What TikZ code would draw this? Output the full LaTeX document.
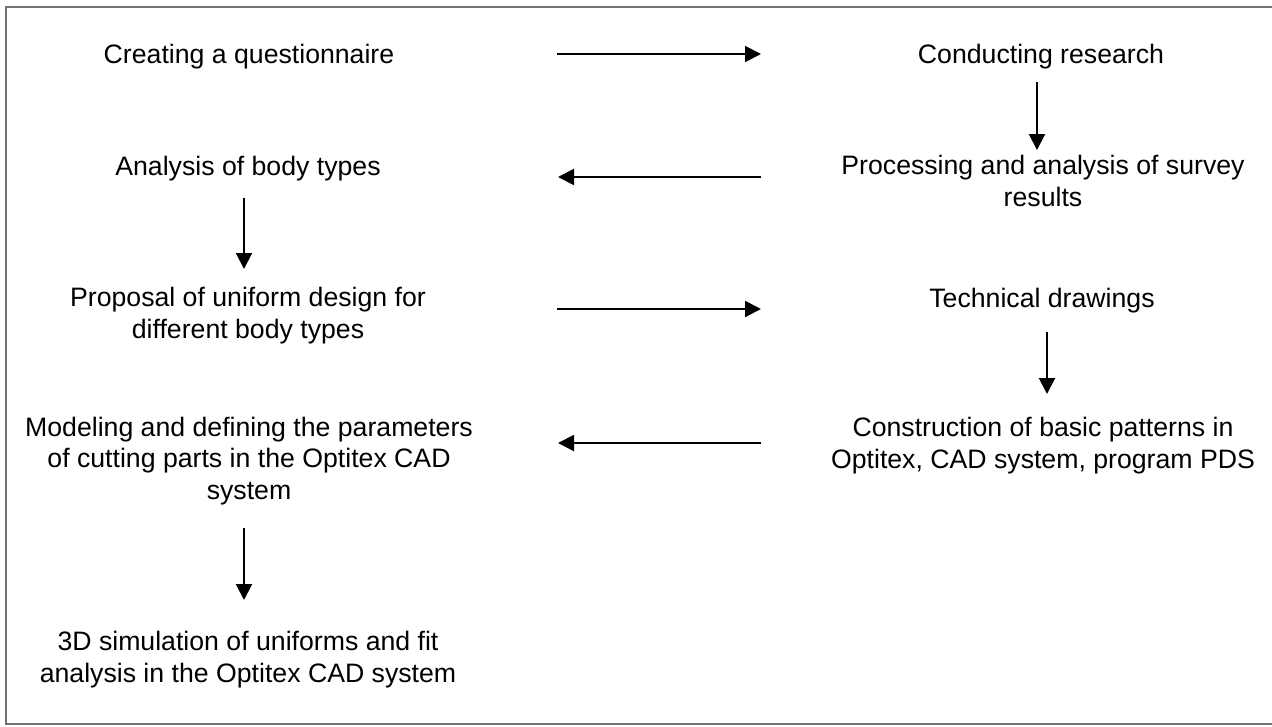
\documentclass[tikz,border=0pt]{standalone}
\usepackage{fontspec}
\setmainfont{Liberation Sans}
\usetikzlibrary{arrows.meta}
\begin{document}
\begin{tikzpicture}[x=0.75pt,y=-0.75pt,
  lbl/.style={font=\fontsize{20}{23.4}\selectfont, align=center, inner sep=0pt, anchor=base},
  arr/.style={line width=1.5pt, -{Triangle[length=12pt,width=12pt]}},
  frame/.style={line width=1pt, draw=black!55}]
\useasboundingbox (0,0) rectangle (1272,726);
\draw[frame] (6,7) rectangle (1285,724);
% nodes (anchor = baseline of the last line)
\node[lbl] (q1) at (249,63) {Creating a questionnaire};
\node[lbl] (q2) at (1041,63) {Conducting research};
\node[lbl] (q3) at (1043,206) {Processing and analysis of survey\\results};
\node[lbl] (q4) at (248,175) {Analysis of body types};
\node[lbl] (q5) at (248,338) {Proposal of uniform design for\\different body types};
\node[lbl] (q6) at (1042,307) {Technical drawings};
\node[lbl] (q7) at (1043,468) {Construction of basic patterns in\\Optitex, CAD system, program PDS};
\node[lbl] (q8) at (249,499) {Modeling and defining the parameters\\of cutting parts in the Optitex CAD\\system};
\node[lbl] (q9) at (248,682) {3D simulation of uniforms and fit\\analysis in the Optitex CAD system};
% connector ends
\coordinate (a1s) at (557,54);  \coordinate (a1e) at (761,54);
\coordinate (a2s) at (1037,82); \coordinate (a2e) at (1037,150);
\coordinate (a3s) at (761,177); \coordinate (a3e) at (558,177);
\coordinate (a4s) at (244,198); \coordinate (a4e) at (244,269);
\coordinate (a5s) at (557,309); \coordinate (a5e) at (761,309);
\coordinate (a6s) at (1047,332); \coordinate (a6e) at (1047,394);
\coordinate (a7s) at (761,443); \coordinate (a7e) at (558,443);
\coordinate (a8s) at (244,528); \coordinate (a8e) at (244,600);
\draw[arr] (a1s) -- (a1e);
\draw[arr] (a2s) -- (a2e);
\draw[arr] (a3s) -- (a3e);
\draw[arr] (a4s) -- (a4e);
\draw[arr] (a5s) -- (a5e);
\draw[arr] (a6s) -- (a6e);
\draw[arr] (a7s) -- (a7e);
\draw[arr] (a8s) -- (a8e);
\end{tikzpicture}
\end{document}
